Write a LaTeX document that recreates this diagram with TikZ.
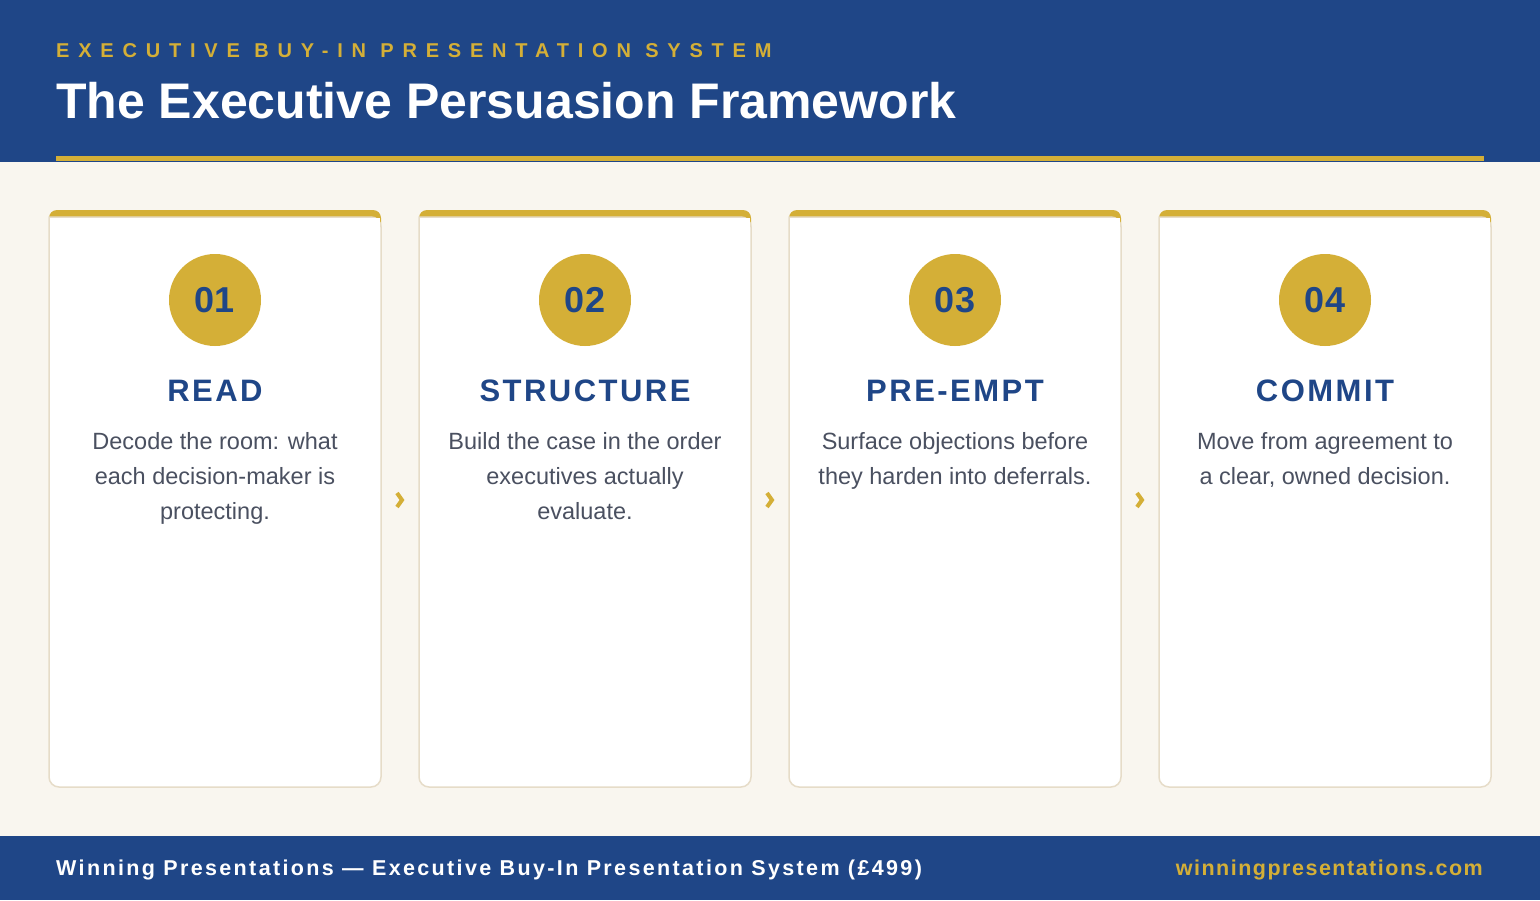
\documentclass[tikz,border=0pt]{standalone}
\usepackage{fontspec}
\usetikzlibrary{calc}
\setmainfont{Liberation Sans}
\newfontfamily\subsp[LetterSpace=44]{Liberation Sans}
\newfontfamily\headsp[LetterSpace=8]{Liberation Sans}
\newfontfamily\footsp[LetterSpace=11]{Liberation Sans}
\newfontfamily\footr[LetterSpace=7]{Liberation Sans}
\definecolor{navy}{HTML}{1F4687}
\definecolor{gold}{HTML}{D4AF37}
\definecolor{cream}{HTML}{F9F6EF}
\definecolor{edge}{HTML}{E6DCC8}
\definecolor{body}{HTML}{4A5060}
\tikzset{x=1pt,y=-1pt,
 num/.style={circle,fill=gold,minimum size=92pt,inner sep=0,text=navy,font=\bfseries\fontsize{36}{40}\selectfont},
 head/.style={text=navy,font=\headsp\bfseries\fontsize{31}{36}\selectfont},
 desc/.style={text=body,align=center,anchor=north,font=\fontsize{23.5}{35}\selectfont},
 chev/.style={gold,line width=4pt}}
\begin{document}
\begin{tikzpicture}
\useasboundingbox (0,0) rectangle (1540,900);
\fill[cream] (0,0) rectangle (1540,900);
\fill[navy] (0,0) rectangle (1540,162);
\fill[gold] (56,156) rectangle (1484,161);
\node[anchor=base west,text=gold,inner sep=0,font=\subsp\bfseries\fontsize{20}{24}\selectfont] (sub) at (56,57) {EXECUTIVE BUY-IN PRESENTATION SYSTEM};
\node[anchor=base west,text=white,inner sep=0,font=\bfseries\fontsize{50}{56}\selectfont] (title) at (56,118) {The Executive Persuasion Framework};
\fill[navy] (0,836) rectangle (1540,900);
\node[anchor=base west,text=white,inner sep=0,font=\footsp\bfseries\fontsize{21.5}{24}\selectfont] (fl) at (56,875) {Winning Presentations — Executive Buy-In Presentation System (£499)};
\node[anchor=base east,text=gold,inner sep=0,font=\footr\bfseries\fontsize{21.5}{24}\selectfont] (fr) at (1483,875) {winningpresentations.com};
\foreach \i/\n/\h/\d in {0/01/READ/{Decode the room: what\\each decision-maker is\\protecting.},
  1/02/STRUCTURE/{Build the case in the order\\executives actually\\evaluate.},
  2/03/PRE-EMPT/{Surface objections before\\they harden into deferrals.},
  3/04/COMMIT/{Move from agreement to\\a clear, owned decision.}}{
 \pgfmathsetmacro\xl{49+370*\i}
 \pgfmathsetmacro\xc{\xl+166}
 \fill[gold,rounded corners=8pt] (\xl,210) rectangle ++(332,40);
 \draw[edge,line width=1.5pt,fill=white,rounded corners=10pt] (\xl,217) -- (\xl,787) -- ++(332,0) -- ++(0,-570) [sharp corners] -- cycle;
 \fill[white] (\xl+1,218) rectangle ++(330,10);
 \node[num] (n\i) at (\xc,300) {\n};
 \node[head] (h\i) at (\xc,391) {\h};
 \node[desc] (d\i) at (\xc,429) {\d};
}
\foreach \i in {0,1,2}{
 \pgfmathsetmacro\cx{397+370*\i}
 \coordinate (c\i) at (\cx,500);
 \draw[chev] ($(c\i)+(0,-7)$) -- ($(c\i)+(5,0)$) -- ($(c\i)+(0,7)$);
}
\end{tikzpicture}
\end{document}
